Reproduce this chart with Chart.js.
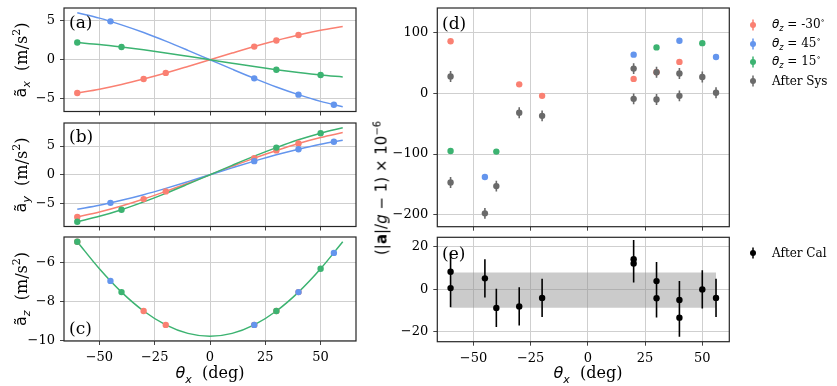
<!DOCTYPE html>
<html><head><meta charset="utf-8">
<script src="https://cdn.jsdelivr.net/npm/chart.js@4.4.1/dist/chart.umd.min.js"></script>
<style>
body{margin:0;width:837px;height:386px;position:relative;background:#fff;overflow:hidden;font-family:'DejaVu Serif',serif;}
canvas{position:absolute;}
.t{position:absolute;white-space:nowrap;color:#000;line-height:1;}
.rot{transform:translate(-50%,-50%) rotate(-90deg);}
.ctr{transform:translate(-50%,-50%);}
.m{font-family:'DejaVu Sans',sans-serif;}
.lg{position:absolute;font-size:12px;white-space:nowrap;line-height:1;transform:translateY(-50%);}
</style></head><body>
<canvas id="ca" width="360" height="120" style="left:0px;top:0px"></canvas>
<canvas id="cb" width="360" height="116" style="left:0px;top:116px"></canvas>
<canvas id="cc" width="360" height="154" style="left:0px;top:232px"></canvas>
<canvas id="cd" width="457" height="232" style="left:380px;top:0px"></canvas>
<canvas id="ce" width="457" height="154" style="left:380px;top:232px"></canvas>

<div class="t rot" style="left:22px;top:60px;font-size:16px"><span class="m">ã<sub style="font-size:11px;font-style:italic">x</sub></span>&nbsp;&nbsp;(m/s<sup style="font-size:11px">2</sup>)</div>
<div class="t rot" style="left:22px;top:175px;font-size:16px"><span class="m">ã<sub style="font-size:11px;font-style:italic">y</sub></span>&nbsp;&nbsp;(m/s<sup style="font-size:11px">2</sup>)</div>
<div class="t rot" style="left:22px;top:289px;font-size:16px"><span class="m">ã<sub style="font-size:11px;font-style:italic">z</sub></span>&nbsp;&nbsp;(m/s<sup style="font-size:11px">2</sup>)</div>
<div class="t rot m" style="left:381px;top:188px;font-size:15px">(|<b>a</b>|/<i>g</i> − 1) × 10<sup style="font-size:10px">−6</sup></div>
<div class="t ctr" style="left:210px;top:375px;font-size:16px"><i class="m">θ</i><sub class="m" style="font-size:11px;font-style:italic">x</sub>&nbsp;&nbsp;(deg)</div>
<div class="t ctr" style="left:588px;top:375px;font-size:16px"><i class="m">θ</i><sub class="m" style="font-size:11px;font-style:italic">x</sub>&nbsp;&nbsp;(deg)</div>

<div class="t" style="left:69px;top:14px;font-size:17px">(a)</div>
<div class="t" style="left:69px;top:128px;font-size:17px">(b)</div>
<div class="t" style="left:69px;top:320px;font-size:17px">(c)</div>
<div class="t" style="left:442px;top:15px;font-size:17px">(d)</div>
<div class="t" style="left:442px;top:245px;font-size:17px">(e)</div>

<div id="legend"></div>

<script>
// ---- data ----
const xTicks = [-50, -25, 0, 25, 50];
const yTicksA = [-5, 0, 5];
const yTicksB = [-5, 0, 5];
const yTicksC = [-10, -8, -6];
const yTicksD = [-200, -100, 0, 100];
const yTicksE = [-20, 0, 20];

const curveX = [-60, -50, -40, -30, -20, -10, 0, 10, 20, 30, 40, 50, 60];
const redAxCurve   = [-4.24, -3.75, -3.15, -2.45, -1.68, -0.85, 0, 0.85, 1.68, 2.45, 3.15, 3.75, 4.24];
const blueAxCurve  = [6.00, 5.31, 4.45, 3.47, 2.37, 1.20, 0, -1.20, -2.37, -3.47, -4.45, -5.31, -6.00];
const greenAxCurve = [2.20, 1.95, 1.63, 1.27, 0.87, 0.44, 0, -0.44, -0.87, -1.27, -1.63, -1.95, -2.20];
const redAyCurve   = [-7.35, -6.50, -5.46, -4.24, -2.90, -1.47, 0, 1.47, 2.90, 4.24, 5.46, 6.50, 7.35];
const blueAyCurve  = [-6.00, -5.31, -4.45, -3.47, -2.37, -1.20, 0, 1.20, 2.37, 3.47, 4.45, 5.31, 6.00];
const greenAyCurve = [-8.20, -7.25, -6.09, -4.73, -3.24, -1.64, 0, 1.64, 3.24, 4.73, 6.09, 7.25, 8.20];
const azCurve      = [-4.90, -6.30, -7.51, -8.49, -9.21, -9.65, -9.80, -9.65, -9.21, -8.49, -7.51, -6.30, -4.90];

const redX = [-60, -30, -20, 20, 30, 40];
const redAx = [-4.24, -2.45, -1.68, 1.68, 2.45, 3.15];
const redAy = [-7.35, -4.24, -2.90, 2.90, 4.24, 5.46];
const redAz = [-4.90, -8.49, -9.21, -9.21, -8.49, -7.51];
const blueX = [-45, 20, 40, 56];
const blueAx = [4.90, -2.37, -4.45, -5.74];
const blueAy = [-4.90, 2.37, 4.45, 5.74];
const blueAz = [-6.93, -9.21, -7.51, -5.48];
const greenX = [-60, -40, 30, 50];
const greenAx = [2.20, 1.63, -1.27, -1.95];
const greenAy = [-8.20, -6.09, 4.73, 7.25];
const greenAz = [-4.90, -7.51, -8.49, -6.30];

const dRed = [86, 15, -4, 24, 35, 52];
const dBlue = [-138, 64, 87, 60];
const dGreen = [-95, -96, 76, 83];
const sysX = [-60, -60, -45, -40, -30, -20, 20, 20, 30, 30, 40, 40, 50, 56];
const sysVal = [28, -147, -198, -153, -32, -37, 41, -9, 35, -10, 33, -4, 27, 1];
const sysErr = [9, 9, 9, 9, 9, 9, 9, 9, 9, 9, 9, 9, 9, 9];
const calX = [-60, -60, -45, -40, -30, -20, 20, 20, 30, 30, 40, 40, 50, 56];
const calVal = [8.3, 0.6, 5.2, -8.7, -8.0, -4.0, 14.2, 12.2, 3.9, -4.2, -5.0, -13.3, 0.0, -4.0];
const calErr = [9, 9, 9, 9, 9, 9, 9, 9, 9, 9, 9, 9, 9, 9];
const bandX = [-60, 56];
const bandLo = -8.6;
const bandHi = 8.0;

const legendD = ['θz = -30°', 'θz = 45°', 'θz = 15°', 'After Sys'];
const legendE = ['After Cal'];

// ---- style ----
const RED = '#fa8072', BLUE = '#6495ed', GREEN = '#3cb371', GRAY = '#6a6a6a', BLACK = '#000';
const GRIDC = '#cfcfcf', TICKC = '#444', FONT = "'DejaVu Serif', serif";

const pts = (xs, ys) => xs.map((x, i) => ({x, y: ys[i]}));
function errPts(xs, vs, es) {
  const out = [];
  xs.forEach((x, i) => { out.push({x, y: vs[i] - es[i]}, {x, y: vs[i] + es[i]}, {x, y: null}); });
  return out;
}
const fmt = v => (v < 0 ? '\u2212' + Math.abs(v) : String(v));
const curve = (ys, c) => ({data: pts(curveX, ys), showLine: true, borderColor: c, borderWidth: 1.5, pointRadius: 0, cubicInterpolationMode: 'monotone', fill: false});
const dots = (xs, ys, c) => ({data: pts(xs, ys), showLine: false, pointRadius: 3.2, pointBackgroundColor: c, pointBorderWidth: 0, borderColor: c});
const errs = (xs, vs, es, c) => ({data: errPts(xs, vs, es), showLine: true, spanGaps: false, borderColor: c, borderWidth: 1.6, pointRadius: 0});

const frame = {id: 'frame', afterDatasetsDraw(chart) {
  const {ctx, chartArea: a} = chart;
  ctx.save(); ctx.strokeStyle = '#262626'; ctx.lineWidth = 1.2;
  ctx.strokeRect(a.left, a.top, a.right - a.left, a.bottom - a.top);
  ctx.restore();
}};

function make(id, box, area, xr, yr, xt, yt, xlabels, datasets) {
  const el = document.getElementById(id);
  return new Chart(el, {
    type: 'scatter',
    data: {datasets},
    plugins: [frame],
    options: {
      responsive: false, animation: false, events: [],
      layout: {padding: {left: 0, top: area.t - box.t, right: box.l + box.w - area.r, bottom: 0}},
      plugins: {legend: {display: false}, tooltip: {enabled: false}},
      scales: {
        x: {type: 'linear', min: xr[0], max: xr[1],
            afterBuildTicks: s => { s.ticks = xt.map(v => ({value: v})); },
            afterFit: s => { s.height = box.t + box.h - area.b; s.paddingLeft = 0; s.paddingRight = 0; },
            grid: {color: GRIDC, lineWidth: 1, tickLength: 4, tickColor: TICKC},
            border: {display: false},
            ticks: {display: xlabels, autoSkip: false, maxRotation: 0, padding: 5, color: '#000', font: {family: FONT, size: 13}, callback: fmt}},
        y: {type: 'linear', min: yr[0], max: yr[1],
            afterBuildTicks: s => { s.ticks = yt.map(v => ({value: v})); },
            afterFit: s => { s.width = area.l - box.l; s.paddingTop = 0; s.paddingBottom = 0; },
            grid: {color: GRIDC, lineWidth: 1, tickLength: 4, tickColor: TICKC},
            border: {display: false},
            ticks: {autoSkip: false, padding: 5, color: '#000', font: {family: FONT, size: 13}, callback: fmt}}
      }
    }
  });
}

const XL = [-66, 66], XR = [-65.8, 61.8];
const LA = {l: 64, r: 356};
make('ca', {l: 0, t: 0, w: 360, h: 120}, {...LA, t: 8, b: 111.5}, XL, [-6.6, 6.6], xTicks, yTicksA, false, [
  dots(greenX, greenAx, GREEN), dots(blueX, blueAx, BLUE), dots(redX, redAx, RED),
  curve(greenAxCurve, GREEN), curve(blueAxCurve, BLUE), curve(redAxCurve, RED)]);
make('cb', {l: 0, t: 116, w: 360, h: 116}, {...LA, t: 123, b: 226.5}, XL, [-9.02, 9.02], xTicks, yTicksB, false, [
  dots(greenX, greenAy, GREEN), dots(blueX, blueAy, BLUE), dots(redX, redAy, RED),
  curve(greenAyCurve, GREEN), curve(blueAyCurve, BLUE), curve(redAyCurve, RED)]);
make('cc', {l: 0, t: 232, w: 360, h: 154}, {...LA, t: 237, b: 341}, XL, [-10.045, -4.655], xTicks, yTicksC, true, [
  dots(greenX, greenAz, GREEN), dots(blueX, blueAz, BLUE), dots(redX, redAz, RED),
  curve(azCurve, GREEN)]);
const RA = {l: 437.3, r: 729.3};
make('cd', {l: 380, t: 0, w: 457, h: 232}, {...RA, t: 8, b: 226.7}, XR, [-220, 141], xTicks, yTicksD, false, [
  dots(sysX, sysVal, GRAY), errs(sysX, sysVal, sysErr, GRAY),
  dots(greenX, dGreen, GREEN), dots(blueX, dBlue, BLUE), dots(redX, dRed, RED)]);
make('ce', {l: 380, t: 232, w: 457, h: 154}, {...RA, t: 237.3, b: 341.7}, XR, [-24.6, 24.5], xTicks, yTicksE, true, [
  dots(calX, calVal, BLACK), errs(calX, calVal, calErr, BLACK),
  {data: pts(bandX, [bandHi, bandHi]), showLine: true, borderWidth: 0, borderColor: 'rgba(0,0,0,0)', pointRadius: 0,
   fill: {value: bandLo}, backgroundColor: 'rgba(140,140,140,0.45)'}]);

// legend (HTML)
function marker(c) {
  return '<svg width="8" height="12" style="position:absolute;left:-4px;top:-6px"><line x1="4" y1="0.5" x2="4" y2="11.5" stroke="' + c + '" stroke-width="1.5"/><circle cx="4" cy="6" r="3" fill="' + c + '"/></svg>';
}
function label(txt) {
  if (txt.startsWith('θz')) return '<i class="m">θ</i><sub class="m" style="font-size:8px;font-style:italic">z</sub>' + txt.slice(2).replace('°', '<sup style="font-size:8px">∘</sup>');
  return txt;
}
const lg = document.getElementById('legend');
const rows = [[legendD[0], RED, 25], [legendD[1], BLUE, 43.5], [legendD[2], GREEN, 62], [legendD[3], GRAY, 80.5], [legendE[0], BLACK, 253]];
rows.forEach(([t, c, y]) => {
  lg.insertAdjacentHTML('beforeend', '<div style="position:absolute;left:753px;top:' + y + 'px">' + marker(c) + '</div>' +
    '<div class="lg" style="left:772px;top:' + y + 'px">' + label(t) + '</div>');
});
</script>
</body></html>
